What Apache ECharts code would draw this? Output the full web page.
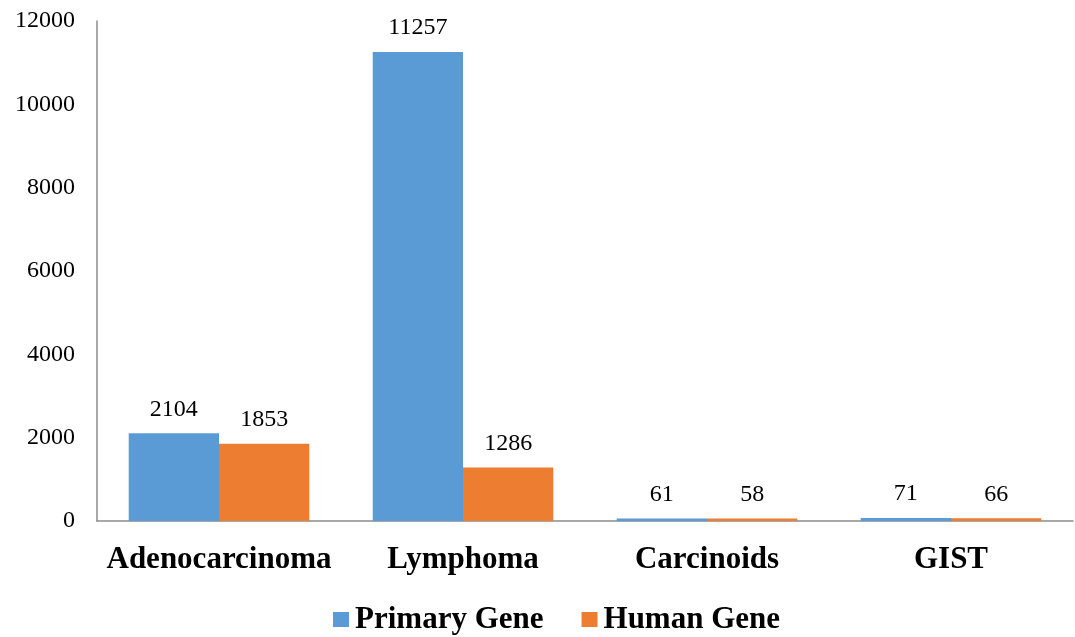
<!DOCTYPE html>
<html>
<head>
<meta charset="utf-8">
<script src="https://cdn.jsdelivr.net/npm/echarts@6/dist/echarts.min.js"></script>
<style>
  html, body { margin: 0; padding: 0; background: #fff; }
  #chart { width: 1075px; height: 637px; }
</style>
</head>
<body>
<div id="chart"></div>
<script>
// Tumour types and gene counts per series
const categories = ['Adenocarcinoma', 'Lymphoma', 'Carcinoids', 'GIST'];
const primaryGene = [2104, 11257, 61, 71];
const humanGene = [1853, 1286, 58, 66];
const yTicks = { min: 0, max: 12000, interval: 2000 };

const serif = '"Liberation Serif", "Times New Roman", serif';

const chart = echarts.init(document.getElementById('chart'));
const valueLabel = {
  show: true,
  position: 'top',
  distance: 12,
  color: '#000',
  fontFamily: serif,
  fontSize: 24
};

chart.setOption({
  backgroundColor: '#fff',
  animation: false,
  grid: { left: 97, right: 2, top: 21, bottom: 116, containLabel: false },
  legend: {
    top: 599,
    left: 328,
    itemWidth: 16,
    itemHeight: 15,
    itemGap: 38,
    icon: 'rect',
    textStyle: { fontFamily: serif, fontSize: 31, fontWeight: 'bold', color: '#000', padding: [0, 0, 0, 1] },
    data: ['Primary Gene', 'Human Gene']
  },
  xAxis: {
    type: 'category',
    data: categories,
    axisLine: { lineStyle: { color: '#8c8c8c', width: 1.5 } },
    axisTick: { show: false },
    axisLabel: {
      interval: 0,
      margin: 23,
      fontFamily: serif,
      fontSize: 31,
      fontWeight: 'bold',
      color: '#000'
    }
  },
  yAxis: {
    type: 'value',
    min: yTicks.min,
    max: yTicks.max,
    interval: yTicks.interval,
    axisLine: { show: true, lineStyle: { color: '#8c8c8c', width: 1.5 } },
    axisTick: { show: false },
    splitLine: { show: false },
    axisLabel: {
      margin: 22,
      fontFamily: serif,
      fontSize: 24,
      color: '#000',
      formatter: (v) => String(v)
    }
  },
  series: [
    {
      name: 'Primary Gene',
      type: 'bar',
      data: primaryGene,
      barGap: '0%',
      barCategoryGap: '26%',
      itemStyle: { color: '#5B9BD5' },
      label: valueLabel
    },
    {
      name: 'Human Gene',
      type: 'bar',
      data: humanGene,
      itemStyle: { color: '#ED7D31' },
      label: valueLabel
    }
  ]
});
</script>
</body>
</html>
